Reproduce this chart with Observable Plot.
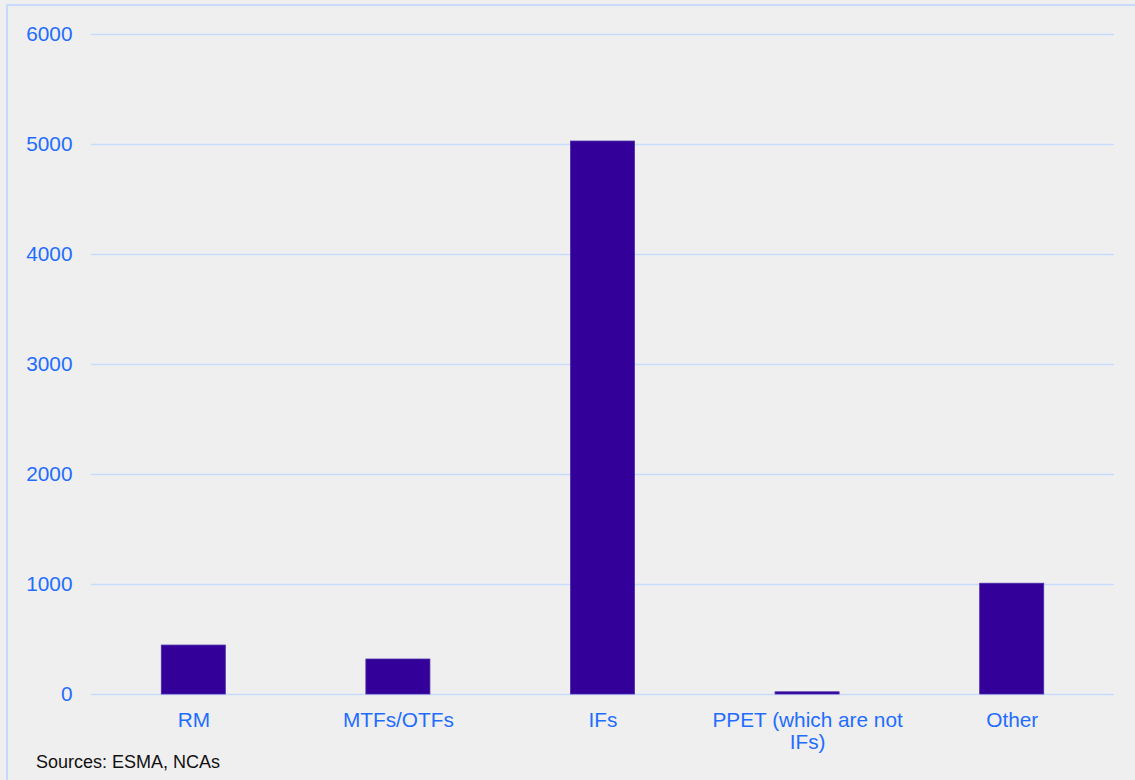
<!DOCTYPE html>
<html>
<head>
<meta charset="utf-8">
<script src="https://cdn.jsdelivr.net/npm/d3@7"></script>
<script src="https://cdn.jsdelivr.net/npm/@observablehq/plot@0.6"></script>
<style>
  html, body { margin: 0; padding: 0; background: #efefef; }
  #wrap { position: relative; width: 1135px; height: 780px; overflow: hidden; background: #efefef; font-family: "Liberation Sans", Arial, sans-serif; }
  #frame { position: absolute; left: 6px; top: 4px; right: -10px; bottom: -10px; border-left: 2px solid #c8dafc; border-top: 2px solid #c8dafc; }
  #chart { position: absolute; left: 0; top: 0; }
  #caption { position: absolute; left: 36px; top: 752px; font-size: 18px; color: #111; }
</style>
</head>
<body>
<div id="wrap">
  <div id="frame"></div>
  <div id="chart"></div>
  <div id="caption">Sources: ESMA, NCAs</div>
</div>
<script>
const categories = ["RM", "MTFs/OTFs", "IFs", "PPET (which are not IFs)", "Other"];
const tickLabels = ["RM", "MTFs/OTFs", "IFs", "PPET (which are not\nIFs)", "Other"];
const values = [445, 318, 5027, 20, 1007];
const yTicks = [0, 1000, 2000, 3000, 4000, 5000, 6000];

const data = categories.map((c, i) => ({category: c, value: values[i]}));
const labelOf = new Map(categories.map((c, i) => [c, tickLabels[i]]));

const blue = "#1f6dff";
const grid = "#c9dbfd";

const chart = Plot.plot({
  width: 1135,
  height: 760,
  marginLeft: 91,
  marginRight: 21,
  marginTop: 34,
  marginBottom: 66,
  style: {background: "transparent", fontFamily: "'Liberation Sans', Arial, sans-serif", fontSize: "20.8px", overflow: "visible"},
  x: {domain: categories, paddingInner: 0.687, paddingOuter: 0.3435, round: false, label: null},
  y: {domain: [0, 6000], label: null},
  marks: [
    Plot.ruleY(yTicks, {stroke: grid, strokeWidth: 1.6}),
    Plot.barY(data, {x: "category", y: "value", fill: "#330099", stroke: "#4a2aa8", strokeWidth: 0.8}),
    Plot.axisY({ticks: yTicks, tickSize: 0, tickPadding: 19, tickFormat: d => String(d), fill: blue, fontSize: 20.8, label: null}),
    Plot.axisX({tickSize: 0, tickPadding: 17, tickFormat: d => labelOf.get(d), fill: blue, fontSize: 20.8, lineHeight: 1.06, label: null})
  ]
});
document.getElementById("chart").appendChild(chart);
</script>
</body>
</html>
